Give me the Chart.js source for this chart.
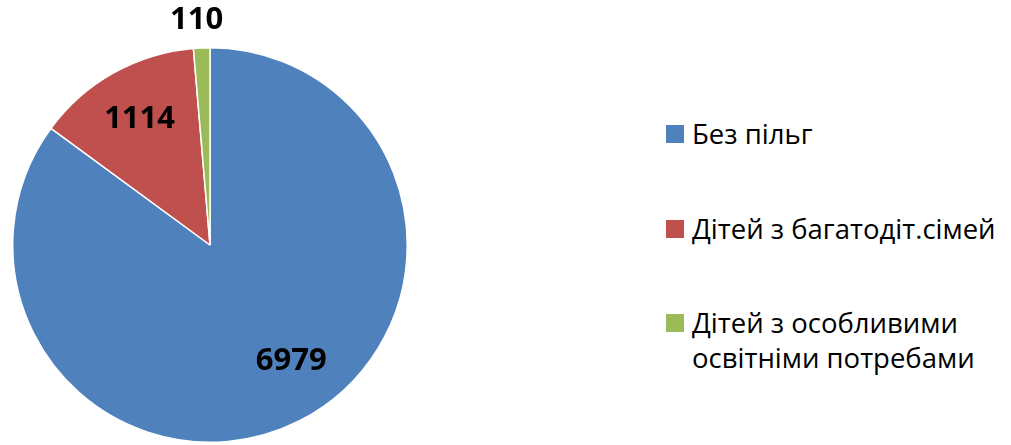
<!DOCTYPE html>
<html>
<head>
<meta charset="utf-8">
<script src="https://cdn.jsdelivr.net/npm/chart.js@4.4.0/dist/chart.umd.min.js"></script>
<style>
  body { margin: 0; background: #fff; }
  #wrap { position: relative; width: 1011px; height: 445px; }
  #pieBox { position: absolute; left: 0; top: 0; width: 420px; height: 445px; }
  #legend { position: absolute; left: 666px; top: 0; font-family: "Open Sans", sans-serif; font-size: 27.5px; color: #000; }
  .item { position: absolute; left: 0; width: 340px; line-height: 35px; }
  .box { position: absolute; left: 0; top: 9px; width: 18px; height: 18px; }
  .txt { margin-left: 26px; }
</style>
</head>
<body>
<div id="wrap">
  <div id="pieBox"><canvas id="myChart"></canvas></div>
  <div id="legend"></div>
</div>
<script>
//data
const categories = ["Без пільг", "Дітей з багатодіт.сімей", "Дітей з особливими освітніми потребами"];
const counts = [6979, 1114, 110];
const colors = ["#4F81BD", "#C0504D", "#9BBB59"];

//label placement: fraction of radius from centre, angle shift in degrees
const labelRadius = [0.72, 0.73, 1.14];
const labelShift = [-8, 0, -1];
//legend rows (top of each item)
const legendTops = [116, 211, 305];

//------------------plugin that writes the values on the slices-----------------
const valueLabels = {
  id: "valueLabels",
  afterDatasetsDraw(chart) {
    const ctx = chart.ctx;
    const meta = chart.getDatasetMeta(0);
    ctx.save();
    ctx.font = "bold 31px 'Open Sans', sans-serif";
    ctx.fillStyle = "#000";
    ctx.textAlign = "center";
    ctx.textBaseline = "middle";
    meta.data.forEach((arc, i) => {
      const p = arc.getProps(["x", "y", "startAngle", "endAngle", "outerRadius"], true);
      const mid = (p.startAngle + p.endAngle) / 2 + labelShift[i] * Math.PI / 180;
      const r = p.outerRadius * labelRadius[i];
      ctx.fillText(String(counts[i]), p.x + Math.cos(mid) * r, p.y + Math.sin(mid) * r);
    });
    ctx.restore();
  },
};

//--------------------Chart-----------------------
const data = {
  labels: categories,
  datasets: [
    {
      data: counts,
      backgroundColor: colors,
      borderColor: "#ffffff",
      borderWidth: 1.5,
    },
  ],
};

const config = {
  type: "pie",
  data,
  options: {
    responsive: true,
    maintainAspectRatio: false,
    animation: false,
    layout: { padding: { top: 47, bottom: 2, left: 12, right: 12 } },
    plugins: {
      legend: { display: false },
      tooltip: { enabled: false },
    },
  },
  plugins: [valueLabels],
};

const myChart = new Chart(document.getElementById("myChart"), config);

//html legend built from the chart data
const legendDiv = document.getElementById("legend");
myChart.data.labels.forEach((lab, i) => {
  const item = document.createElement("div");
  item.className = "item";
  item.style.top = legendTops[i] + "px";
  item.innerHTML = `<span class="box" style="background:${colors[i]}"></span><div class="txt">${lab}</div>`;
  legendDiv.appendChild(item);
});
</script>
</body>
</html>
